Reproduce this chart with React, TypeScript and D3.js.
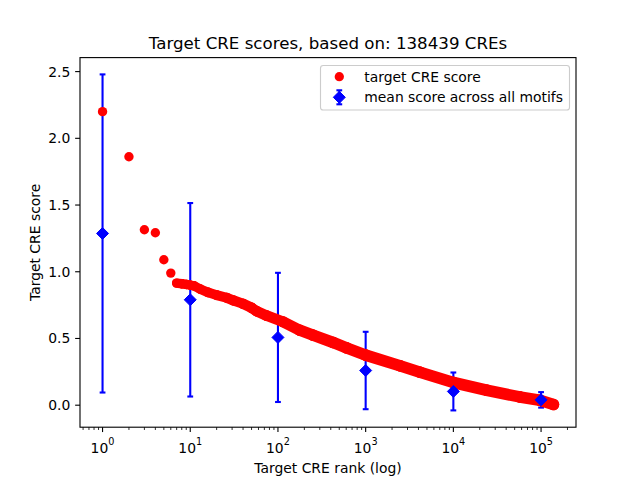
import React from "react";
import * as d3 from "d3";

// ---- data ----
const ranks = [1, 2, 3, 4, 5, 6, 7, 8, 9, 10, 11, 13, 16, 20, 26, 31, 40, 50, 57, 74, 114, 177, 251, 425, 605, 1000, 2456, 4170, 10000, 24000, 57000, 97000, 138439];
const scores = [2.2, 1.862, 1.315, 1.292, 1.09, 0.99, 0.915, 0.91, 0.905, 0.9, 0.895, 0.87, 0.845, 0.825, 0.805, 0.785, 0.76, 0.73, 0.705, 0.672, 0.625, 0.562, 0.525, 0.47, 0.43, 0.375, 0.296, 0.247, 0.17, 0.112, 0.062, 0.037, 0.005];

const meanRanks = [1, 10, 100, 1000, 10000, 100000];
const meanScores = [1.287, 0.79, 0.508, 0.26, 0.103, 0.04];
const stdScores = [1.192, 0.725, 0.484, 0.29, 0.142, 0.058];

const yTicks = [0, 0.5, 1.0, 1.5, 2.0, 2.5];
const xMajorExps = [0, 1, 2, 3, 4, 5];

const titleText = "Target CRE scores, based on: 138439 CREs";
const xLabel = "Target CRE rank (log)";
const yLabel = "Target CRE score";
const legendLabels = ["target CRE score", "mean score across all motifs"];

// ---- layout ----
const W = 640, H = 480;
const L = 80, R = 576, T = 57.6, B = 427.2;
const FONT = "DejaVu Sans";
const RED = "#ff0000";
const BLUE = "#0000ff";

export default function App() {
  const logMin = Math.log10(d3.min(ranks)!);
  const logMax = Math.log10(d3.max(ranks)!);
  const lm = (logMax - logMin) * 0.05;
  const x = d3.scaleLog().domain([Math.pow(10, logMin - lm), Math.pow(10, logMax + lm)]).range([L, R]);

  const lows = meanScores.map((m, i) => m - stdScores[i]);
  const highs = meanScores.map((m, i) => m + stdScores[i]);
  const yMin = Math.min(d3.min(scores)!, d3.min(lows)!);
  const yMax = Math.max(d3.max(scores)!, d3.max(highs)!);
  const ym = (yMax - yMin) * 0.05;
  const y = d3.scaleLinear().domain([yMin - ym, yMax + ym]).range([B, T]);

  const pts = ranks.map((r, i) => ({ r, s: scores[i] }));
  const bandPts = pts.filter((p) => p.r >= 7);
  const segs = d3.pairs(bandPts);
  // dense markers merge their anti-aliased rims, so the band grows slightly thicker
  const bandWidth = (r: number) => Math.min(11.6, 9.4 + Math.max(0, Math.log10(r) - 1) * 1.5);

  const [d0, d1] = x.domain();
  const minorTicks: number[] = [];
  for (let e = -1; e <= 6; e++) {
    for (let m = 2; m <= 9; m++) {
      const v = m * Math.pow(10, e);
      if (v >= d0 && v <= d1) minorTicks.push(v);
    }
  }

  const dr = 6; // diamond half-diagonal
  const diamond = (cx: number, cy: number) =>
    `M${cx},${cy - dr}L${cx + dr},${cy}L${cx},${cy + dr}L${cx - dr},${cy}Z`;
  const cap = 2.9;
  const rDot = 4.65;

  const legX = 339.3;
  const legTextX = 364.3;
  const row1 = 76.7, row2 = 97.3;

  return (
    <svg width={W} height={H} style={{ position: "absolute", left: 0, top: 0, background: "#fff" }} fontFamily={FONT}>
      <rect x={0} y={0} width={W} height={H} fill="#fff" />
      {/* error bars */}
      <g stroke={BLUE} strokeWidth={2.1}>
        {meanRanks.map((r, i) => (
          <g key={i}>
            <line x1={x(r)} x2={x(r)} y1={y(lows[i])} y2={y(highs[i])} />
            <line x1={x(r) - cap} x2={x(r) + cap} y1={y(lows[i])} y2={y(lows[i])} />
            <line x1={x(r) - cap} x2={x(r) + cap} y1={y(highs[i])} y2={y(highs[i])} />
          </g>
        ))}
      </g>
      {/* red points: dense band + individual markers */}
      <g stroke={RED} strokeLinecap="round" fill="none">
        {segs.map(([a, b], i) => (
          <line key={i} x1={x(a.r)} y1={y(a.s)} x2={x(b.r)} y2={y(b.s)} strokeWidth={bandWidth(Math.sqrt(a.r * b.r))} />
        ))}
      </g>
      {pts.map((p, i) => (
        <circle key={i} cx={x(p.r)} cy={y(p.s)} r={Math.max(rDot, bandWidth(p.r) / 2)} fill={RED} />
      ))}
      {/* diamonds */}
      {meanRanks.map((r, i) => (
        <path key={i} d={diamond(x(r), y(meanScores[i]))} fill={BLUE} stroke={BLUE} strokeWidth={1} />
      ))}

      {/* spines */}
      <rect x={L} y={T} width={R - L} height={B - T} fill="none" stroke="#000" strokeWidth={1.11} />

      {/* x ticks */}
      {xMajorExps.map((e) => {
        const xv = x(Math.pow(10, e));
        return (
          <g key={e}>
            <line x1={xv} x2={xv} y1={B} y2={B + 4.86} stroke="#000" strokeWidth={1.11} />
            <text x={xv} y={452.5} textAnchor="middle" fontSize={13.9} fill="#000">
              10
              <tspan dy={-7.2} fontSize={9.7}>{e}</tspan>
            </text>
          </g>
        );
      })}
      {minorTicks.map((v, i) => (
        <line key={i} x1={x(v)} x2={x(v)} y1={B} y2={B + 2.78} stroke="#000" strokeWidth={0.83} />
      ))}

      {/* y ticks */}
      {yTicks.map((t) => (
        <g key={t}>
          <line x1={L - 4.86} x2={L} y1={y(t)} y2={y(t)} stroke="#000" strokeWidth={1.11} />
          <text x={70.3} y={y(t) + 5} textAnchor="end" fontSize={13.9} fill="#000">
            {t.toFixed(1)}
          </text>
        </g>
      ))}

      {/* labels */}
      <text x={(L + R) / 2} y={49} textAnchor="middle" fontSize={16.67} fill="#000">{titleText}</text>
      <text x={(L + R) / 2} y={472.5} textAnchor="middle" fontSize={13.9} fill="#000">{xLabel}</text>
      <text transform={`translate(39.5,${(T + B) / 2}) rotate(-90)`} textAnchor="middle" fontSize={13.9} fill="#000">{yLabel}</text>

      {/* legend */}
      <rect x={320.5} y={65.5} width={249} height={44.5} rx={2.8} fill="#fff" fillOpacity={0.8} stroke="#cccccc" strokeWidth={1.11} />
      <circle cx={legX} cy={row1} r={rDot} fill={RED} />
      <text x={legTextX} y={row1 + 5} fontSize={13.9} fill="#000">{legendLabels[0]}</text>
      <g stroke={BLUE} strokeWidth={2.1}>
        <line x1={legX} x2={legX} y1={row2 - 7} y2={row2 + 7} />
        <line x1={legX - cap} x2={legX + cap} y1={row2 - 7} y2={row2 - 7} />
        <line x1={legX - cap} x2={legX + cap} y1={row2 + 7} y2={row2 + 7} />
      </g>
      <path d={diamond(legX, row2)} fill={BLUE} stroke={BLUE} strokeWidth={1} />
      <text x={legTextX} y={row2 + 5} fontSize={13.9} fill="#000">{legendLabels[1]}</text>
    </svg>
  );
}
